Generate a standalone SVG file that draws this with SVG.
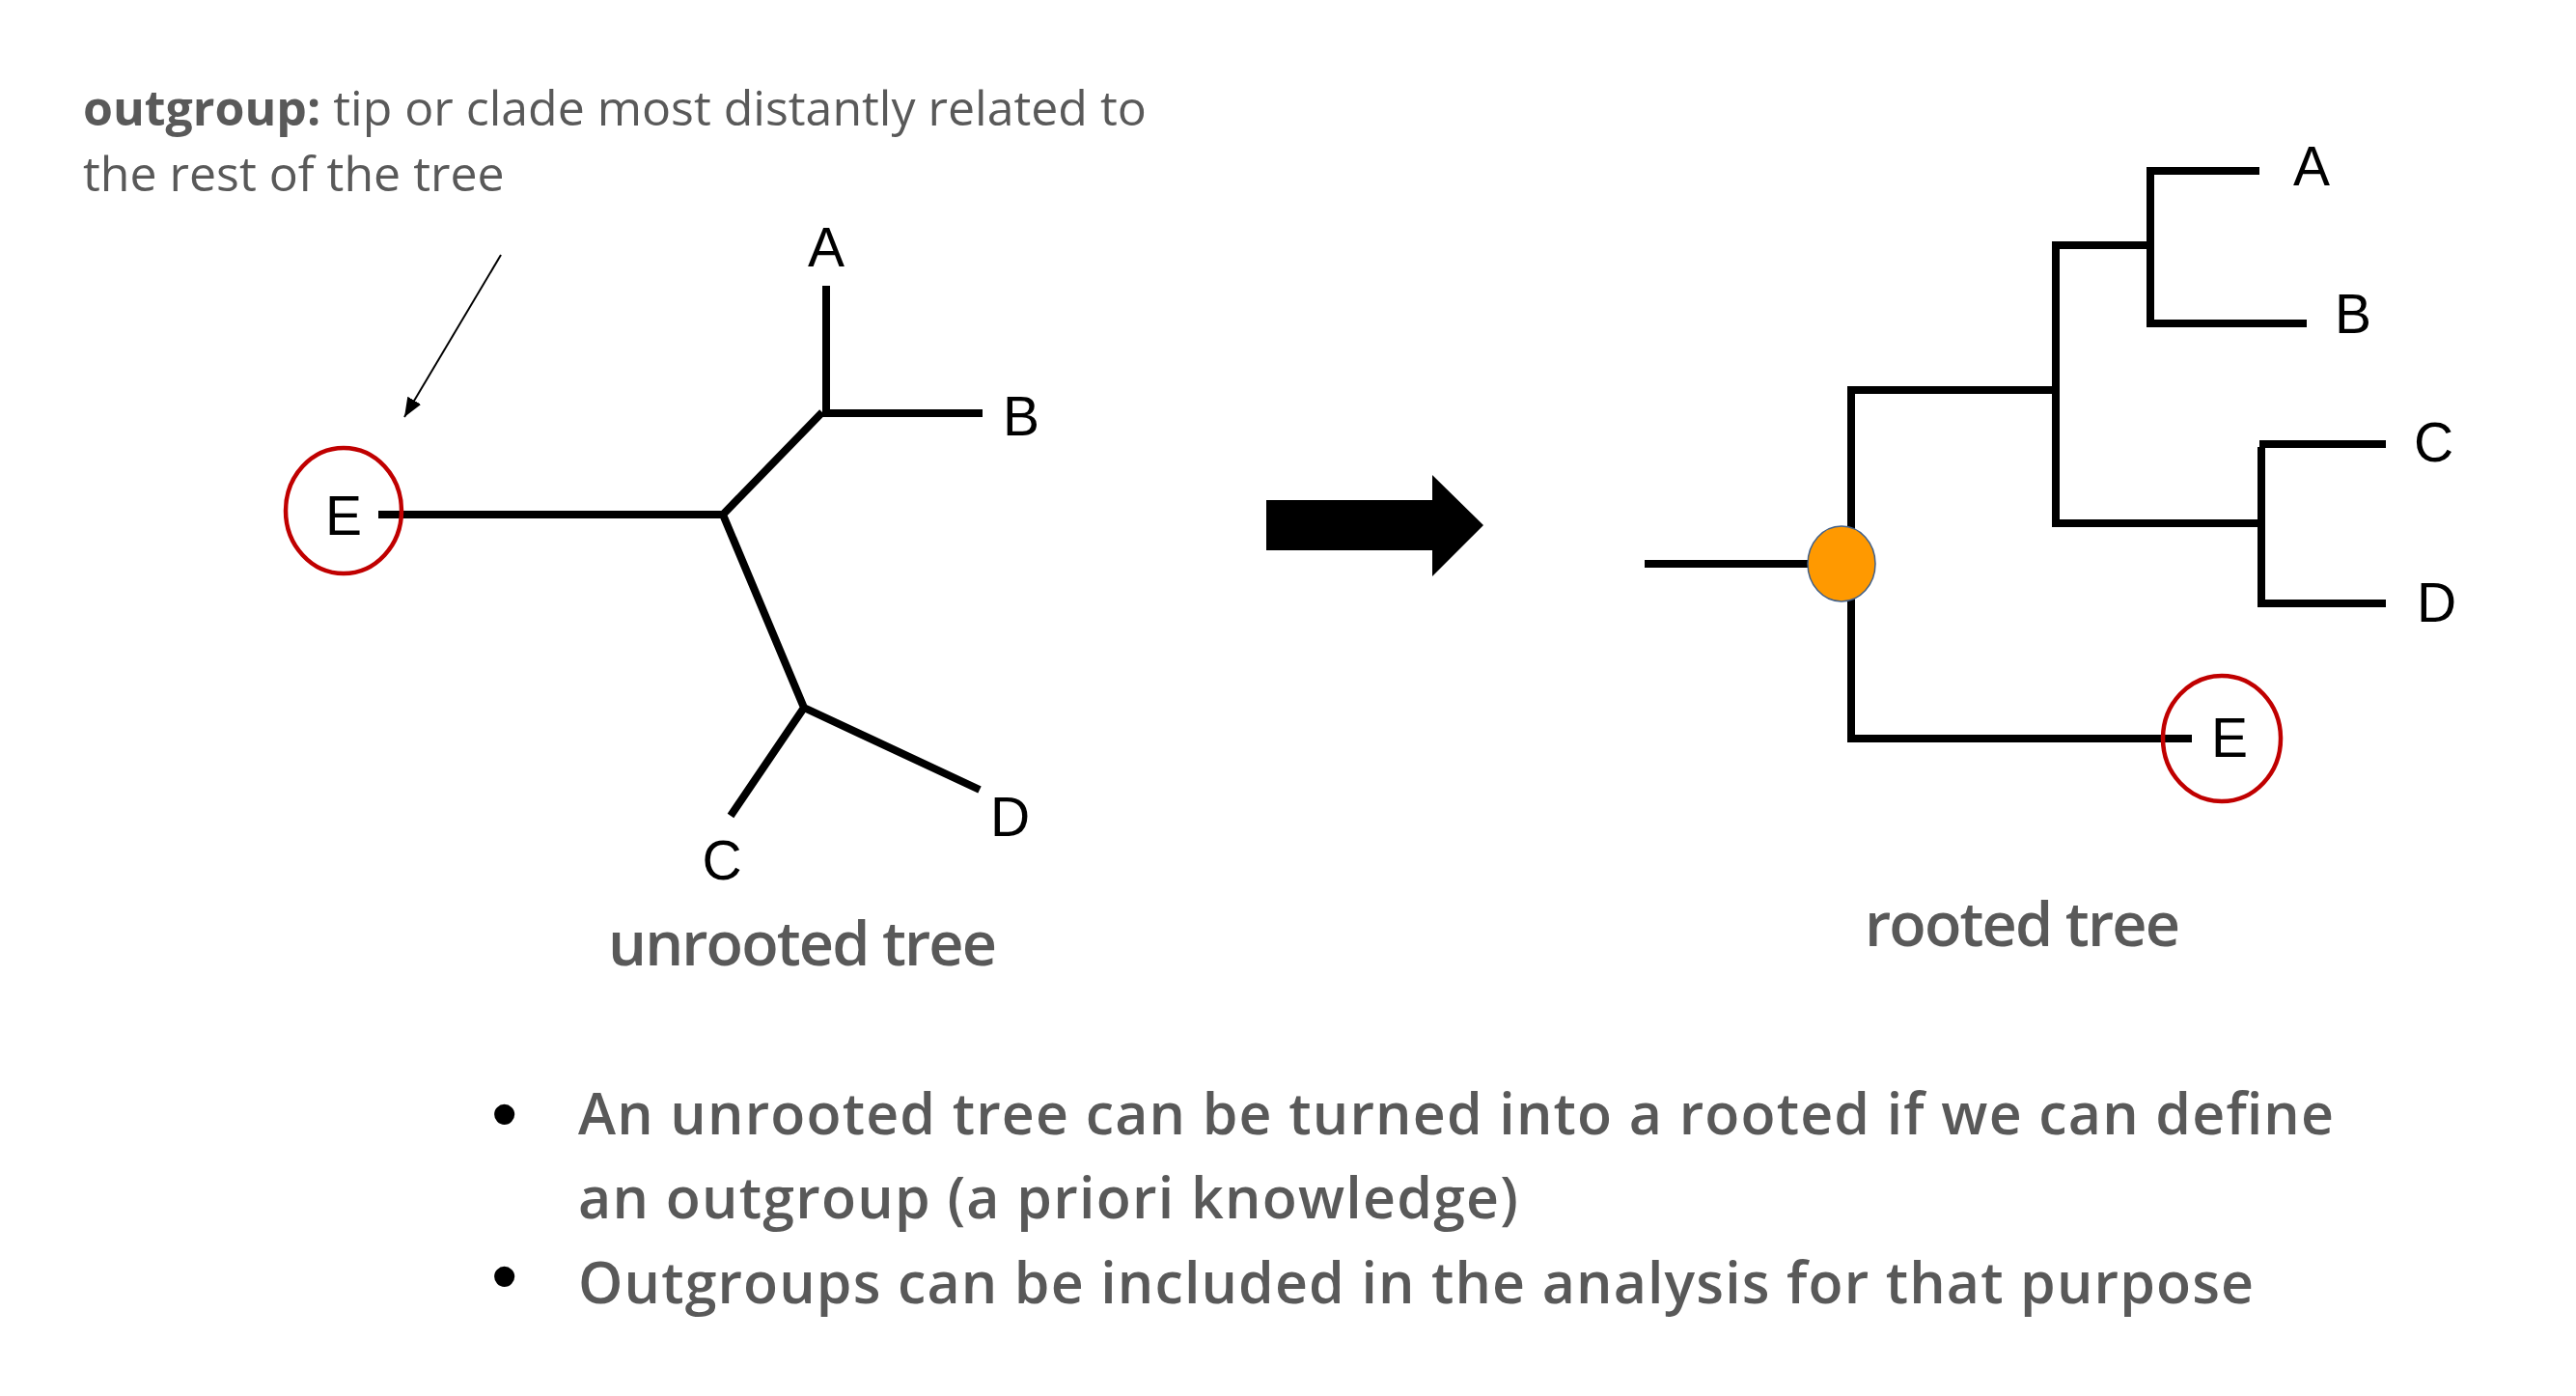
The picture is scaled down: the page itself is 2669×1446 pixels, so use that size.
<svg xmlns="http://www.w3.org/2000/svg" width="2669" height="1446" viewBox="0 0 2669 1446">
<defs>
<style>
.br{stroke:#000;stroke-width:8;fill:none;stroke-linecap:butt;stroke-linejoin:miter}
.lbl{font-family:"Liberation Sans",Arial,sans-serif;font-size:57px;fill:#000}
.gt{font-family:"Open Sans","Liberation Sans",sans-serif;fill:#595959}
.ring{fill:none;stroke:#c00000;stroke-width:4.5}
.bul{font-family:"Liberation Sans",Arial,sans-serif;font-size:78px;fill:#000}
</style>
<marker id="ah" markerUnits="userSpaceOnUse" markerWidth="22" markerHeight="18" refX="20" refY="8" orient="auto">
<path d="M0,0 L20,8 L0,16 z" fill="#000"/>
</marker>
</defs>
<rect width="2669" height="1446" fill="#fff"/>

<g id="note">
<text class="gt" x="86" y="130" font-size="50"><tspan font-weight="700">outgroup:</tspan> tip or clade most distantly related to</text>
<text class="gt" x="86" y="198" font-size="50">the rest of the tree</text>
</g>

<g id="connectors">
<line x1="519" y1="264" x2="419" y2="432" stroke="#000" stroke-width="2" marker-end="url(#ah)"/>
</g>

<g id="unrooted-tree">
<path class="br" d="M392,533 H749 L852,427 M856,296 V428 H1018 M749,533 L833,733 L757,845 M833,733 L1015,818"/>
<ellipse class="ring" cx="356" cy="529" rx="60" ry="65"/>
<text class="lbl" x="356" y="554" text-anchor="middle">E</text>
<text class="lbl" x="856" y="276" text-anchor="middle">A</text>
<text class="lbl" x="1039" y="451">B</text>
<text class="lbl" x="748" y="911" text-anchor="middle">C</text>
<text class="lbl" x="1026" y="866">D</text>
<text class="gt" x="630" y="1000" font-size="63" font-weight="600" textLength="403">unrooted tree</text>
</g>

<g id="big-arrow">
<polygon points="1312,518 1484,518 1484,492 1537,544 1484,597 1484,570 1312,570" fill="#000"/>
</g>

<g id="rooted-tree">
<path class="br" d="M1704,584 H1880 M1918,403 V766 M1914,404 H2133 M1914,765 H2271 M2130,250 V545 M2126,254 H2231 M2228,173 V339 M2224,177 H2341 M2224,335 H2390 M2126,542 H2346 M2343,463 V629 M2339,625 H2472 M2341,460 H2472"/>
<ellipse cx="1908" cy="584" rx="35" ry="39" fill="#ff9900" stroke="#41608a" stroke-width="1.5"/>
<ellipse class="ring" cx="2302" cy="765" rx="61" ry="65"/>
<text class="lbl" x="2376" y="192">A</text>
<text class="lbl" x="2419" y="345">B</text>
<text class="lbl" x="2501" y="478">C</text>
<text class="lbl" x="2504" y="644">D</text>
<text class="lbl" x="2291" y="784">E</text>
<text class="gt" x="1932" y="980" font-size="63" font-weight="600" textLength="327">rooted tree</text>
</g>

<g id="bullets">
<text class="bul" x="509" y="1180">•</text>
<text class="gt" x="599" y="1175" font-size="59" font-weight="600" textLength="1819">An unrooted tree can be turned into a rooted if we can define</text>
<text class="gt" x="599" y="1262" font-size="59" font-weight="600" textLength="974">an outgroup (a priori knowledge)</text>
<text class="bul" x="509" y="1348">•</text>
<text class="gt" x="599" y="1350" font-size="59" font-weight="600" textLength="1736">Outgroups can be included in the analysis for that purpose</text>
</g>
</svg>
